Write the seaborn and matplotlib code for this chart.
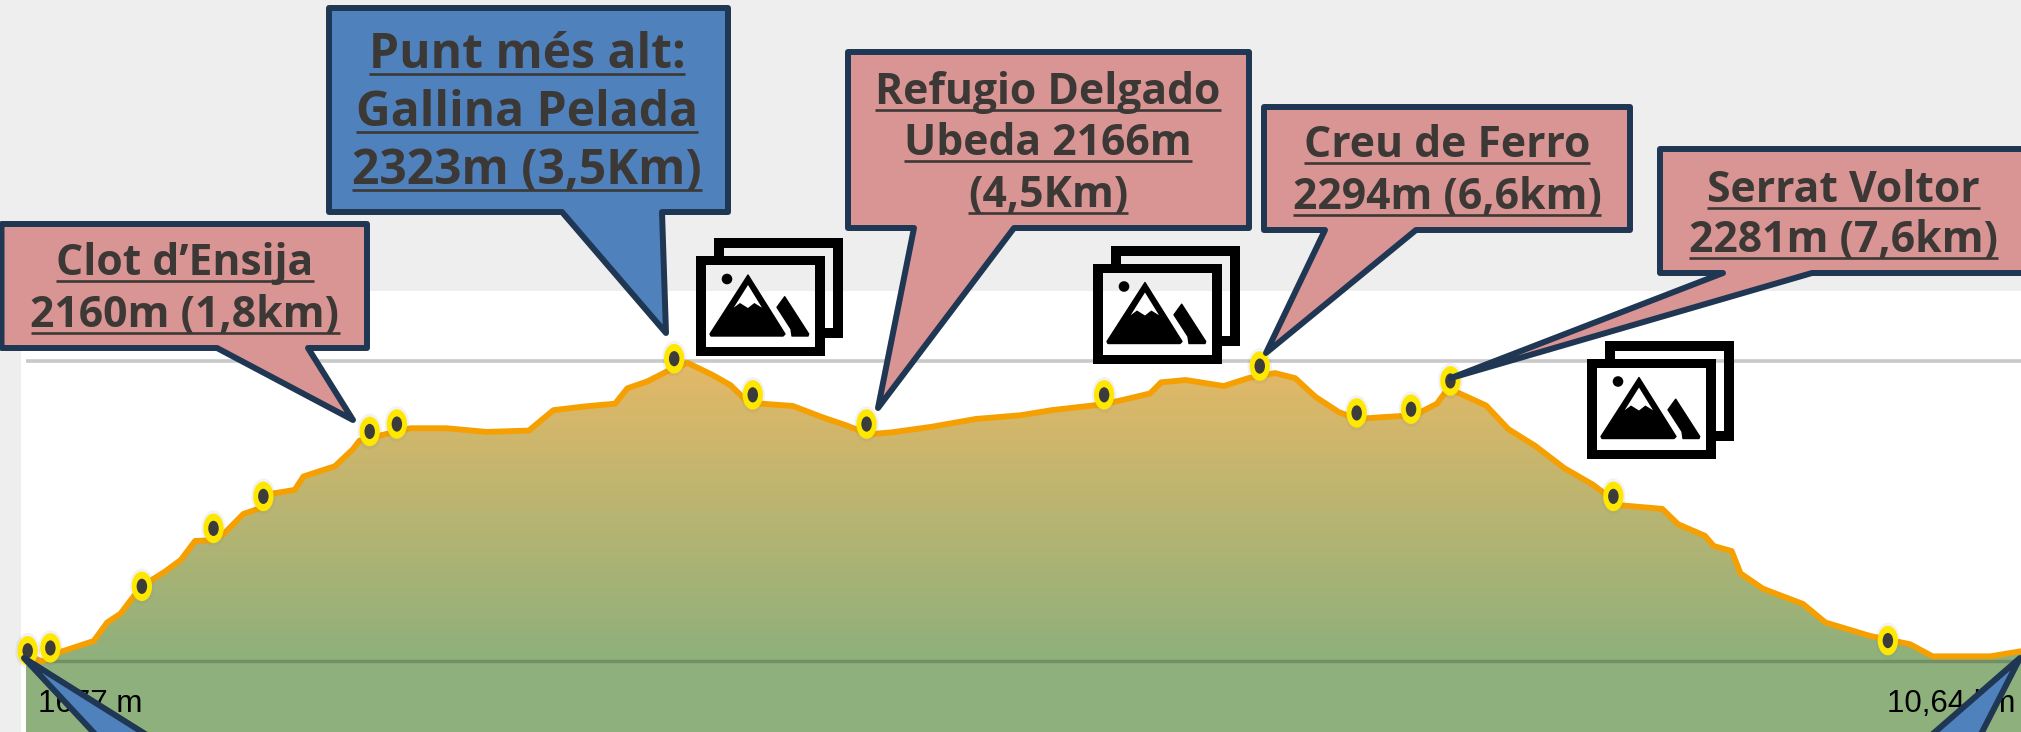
import numpy as np
import matplotlib
matplotlib.use("Agg")
import matplotlib.pyplot as plt
import matplotlib.transforms as mtransforms
from matplotlib.colors import to_rgb
from matplotlib.markers import MarkerStyle
from matplotlib.patches import PathPatch, Polygon, Rectangle, Circle
from matplotlib.path import Path
import seaborn as sns

# ---------- data ----------
profile_km = [0.0, 0.087, 0.195, 0.361, 0.433, 0.504, 0.564, 0.618, 0.742, 0.826, 0.902, 0.981, 1.052, 1.159,
              1.266, 1.314, 1.433, 1.480, 1.647, 1.742, 1.778, 1.885, 2.052, 2.242, 2.457, 2.682, 2.813, 2.980,
              3.142, 3.207, 3.314, 3.421, 3.528, 3.661, 3.757, 3.840, 3.923, 4.090, 4.245, 4.376, 4.495, 4.614,
              4.828, 5.066, 5.304, 5.471, 5.709, 5.828, 5.995, 6.054, 6.185, 6.388, 6.519, 6.661, 6.769, 6.876,
              7.001, 7.097, 7.239, 7.406, 7.525, 7.585, 7.668, 7.787, 7.906, 8.049, 8.204, 8.358, 8.501, 8.727,
              8.811, 8.954, 9.001, 9.097, 9.144, 9.263, 9.477, 9.597, 9.835, 10.049, 10.168, 10.477, 10.64]
profile_m = [1689, 1675, 1697, 1719, 1759, 1778, 1810, 1837, 1869, 1894, 1935, 1936, 1949, 1993,
             2008, 2037, 2045, 2074, 2096, 2132, 2151, 2162, 2178, 2178, 2170, 2173, 2217, 2225,
             2231, 2264, 2279, 2301, 2319, 2293, 2271, 2238, 2231, 2226, 2202, 2184, 2165, 2169,
             2181, 2198, 2206, 2217, 2228, 2237, 2253, 2277, 2282, 2269, 2286, 2297, 2286, 2246,
             2213, 2198, 2202, 2206, 2231, 2264, 2249, 2227, 2176, 2140, 2092, 2056, 2012, 2004,
             1971, 1946, 1924, 1913, 1865, 1832, 1799, 1759, 1730, 1712, 1686, 1686, 1697]
waypoint_km = [0.009, 0.130, 0.618, 1.0, 1.266, 1.833, 1.978, 3.457, 3.876, 4.483, 5.75, 6.58, 7.097, 7.387, 7.597, 8.466, 9.93]
waypoint_m = [1698, 1704, 1837, 1962, 2031, 2171, 2187, 2328, 2250, 2187, 2250, 2312, 2211, 2219, 2280, 2031, 1720]
max_elev = 2323
min_elev = 1677
total_km = 10.64
start_label = "1677 m"
end_label = "10,64 km"
callout_lines = {
    "clot": ["Clot d’Ensija", "2160m (1,8km)"],
    "peak": ["Punt més alt:", "Gallina Pelada", "2323m (3,5Km)"],
    "refugi": ["Refugio Delgado", "Ubeda 2166m", "(4,5Km)"],
    "creu": ["Creu de Ferro", "2294m (6,6km)"],
    "serrat": ["Serrat Voltor", "2281m (7,6km)"],
}

# ---------- styles ----------
W, H = 2021, 732
BG = "#eeeeee"
PINK = "#d99494"
BLUE = "#4f81bd"
NAVY = "#1f3753"
TXT = "#3c3835"
ORANGE = "#f5a000"
GRAD_TOP = "#e6b966"
GRAD_BOT = "#8eb07c"
FONT = ["Open Sans", "DejaVu Sans"]
NARROW = ["Liberation Sans", "DejaVu Sans"]

sns.set_theme(style="white")
fig = plt.figure(figsize=(W / 100, H / 100), dpi=100, facecolor=BG)
ax = fig.add_axes([0, 0, 1, 1])
ax.set_axis_off()
# pixel transform used only for the decorations (callouts, icons)
PX = mtransforms.Affine2D().scale(1 / W, -1 / H).translate(0, 1) + fig.transFigure

km_per_px = total_km / (W - 26)
m_per_px = (max_elev - min_elev) / 299.5
xlim = (-26 * km_per_px, total_km)
ylim = (max_elev - (H - 361) * m_per_px, max_elev + 361 * m_per_px)

# page panels
fig.patches.append(Rectangle((21, 291), W, H, transform=PX, fc="white", ec="none", zorder=-5))

ax.hlines(max_elev, 0, total_km, color="#c9c9c9", lw=2.6, zorder=1)

# gradient fill under the profile
poly = ax.fill_between(profile_km, profile_m, ylim[0], color="none", lw=0)
n = 256
t = np.linspace(0, 1, n)[:, None]
c0, c1 = np.array(to_rgb(GRAD_BOT)), np.array(to_rgb(GRAD_TOP))
img = (c0 + (c1 - c0) * t)[:, None, :].reshape(n, 1, 3)
im = ax.imshow(img, origin="lower", extent=(0, total_km, min_elev, max_elev + 10), aspect="auto", zorder=2)
im.set_clip_path(poly.get_paths()[0], transform=ax.transData)
ax.fill_between([0, total_km], min_elev, ylim[0], color=GRAD_BOT, lw=0, zorder=2)
ax.hlines(min_elev, 0, total_km, color="#6f8a62", lw=2.4, alpha=0.85, zorder=3)

sns.lineplot(x=profile_km, y=profile_m, ax=ax, color=ORANGE, lw=4.2, estimator=None, sort=False,
             legend=False, zorder=4, solid_joinstyle="round")

ell = MarkerStyle(Path.unit_circle().transformed(mtransforms.Affine2D().scale(0.69, 1)))
sns.scatterplot(x=waypoint_km, y=waypoint_m, ax=ax, marker=ell, s=660, color="#808080", alpha=0.10,
                edgecolor="none", linewidth=0, zorder=5, legend=False)
sns.scatterplot(x=waypoint_km, y=waypoint_m, ax=ax, marker=ell, s=450, color="#ffe800",
                edgecolor="none", linewidth=0, zorder=6, legend=False)
sns.scatterplot(x=waypoint_km, y=waypoint_m, ax=ax, marker=ell, s=120, color="#3c3c3c",
                edgecolor="none", linewidth=0, zorder=7, legend=False)
ax.set_xlim(*xlim)
ax.set_ylim(*ylim)

# axis end labels
ax.text(38, 712, start_label, transform=PX, family=NARROW, fontsize=22.5, color="black", ha="left", va="baseline", zorder=8)
ax.text(2015, 712, end_label, transform=PX, family=NARROW, fontsize=22.5, color="black", ha="right", va="baseline", zorder=8)


def callout(box, base, tip, face):
    l, t, r, b = box
    pts = [(l, t), (r, t), (r, b), (base[1], b), tip, (base[0], b), (l, b)]
    ax.add_patch(Polygon(pts, closed=True, transform=PX, fc=face, ec=NAVY, lw=4.3, joinstyle="round",
                         zorder=10, clip_on=True))


def labels(lines, cx, baselines, size):
    out = []
    for s, y in zip(lines, baselines):
        out.append((ax.text(cx, y, s, transform=PX, family=FONT, fontweight="bold", fontsize=size, color=TXT,
                            ha="center", va="baseline", zorder=11), y))
    return out


callout((1.5, 224, 367, 348), (217, 308), (353, 420), PINK)
callout((329, 8, 728, 212), (562, 662), (666, 333), BLUE)
callout((848, 52, 1249, 228), (914, 1014), (878, 408), PINK)
callout((1264, 107, 1630, 230), (1325, 1416), (1266, 353), PINK)
callout((1660, 149, 2040, 273), (1723, 1812), (1451, 378), PINK)
# the two blue pointers entering from below the frame
ax.add_patch(Polygon([(24, 658), (217, 779), (137, 779)], closed=True, transform=PX, fc=BLUE, ec=NAVY,
                     lw=4.3, joinstyle="round", zorder=10))
ax.add_patch(Polygon([(2020, 658), (1958, 779), (1881, 779)], closed=True, transform=PX, fc=BLUE, ec=NAVY,
                     lw=4.3, joinstyle="round", zorder=10))

texts = []
texts += labels(callout_lines["clot"], 185, [275, 327], 30.7)
texts += labels(callout_lines["peak"], 527, [68, 126, 184], 34.6)
texts += labels(callout_lines["refugi"], 1048, [104, 155, 207], 30.7)
texts += labels(callout_lines["creu"], 1447, [157, 209], 30.7)
texts += labels(callout_lines["serrat"], 1843.5, [202, 252], 30.7)

fig.canvas.draw()
rend = fig.canvas.get_renderer()
for t_, y in texts:
    bb = t_.get_window_extent(rend)
    ax.plot([bb.x0, bb.x1], [y + 5.5, y + 5.5], transform=PX, color=TXT, lw=1.9, solid_capstyle="butt", zorder=11)


def icon(x0, y0):
    tr = mtransforms.Affine2D().translate(x0, y0) + PX
    MV, LN, CL = Path.MOVETO, Path.LINETO, Path.CLOSEPOLY
    ring = [(0, 0), (128.7, 0), (128.7, 100), (0, 100), (0, 0), (10, 9), (10, 91), (119, 91), (119, 9), (10, 9)]
    codes = [MV, LN, LN, LN, CL, MV, LN, LN, LN, CL]
    z = 12
    ax.add_patch(PathPatch(Path(ring, codes), transform=tr, fc="black", ec="none", zorder=z))
    ax.add_patch(Polygon([(17.7, 0), (17.7, -17.7), (146.7, -17.7), (146.7, 82.3), (128.7, 82.3), (128.7, 72.3),
                          (136.7, 72.3), (136.7, -7.7), (27.7, -7.7), (27.7, 0)], transform=tr, fc="black", ec="none", zorder=z))
    ax.add_patch(Polygon([(52, 19), (89, 78), (87, 80), (15, 80), (14, 78)], transform=tr, fc="black", ec="black", lw=1, joinstyle="round", zorder=z))
    ax.add_patch(Polygon([(52, 29), (37.7, 51.7), (44, 47), (52, 52), (58.3, 47), (66, 51.7)], transform=tr, fc="white", ec="none", zorder=z))
    ax.add_patch(Polygon([(81, 51.3), (88.7, 40.7), (112.7, 78), (112, 80), (96, 80), (95, 73)], transform=tr, fc="black", ec="black", lw=1, joinstyle="round", zorder=z))
    ax.add_patch(Circle((31, 23), 5.3, transform=tr, fc="black", ec="none", zorder=z))


icon(696, 256)
icon(1093, 263.5)
icon(1587, 358.5)

fig.savefig("out.png", dpi=100, facecolor=BG)
